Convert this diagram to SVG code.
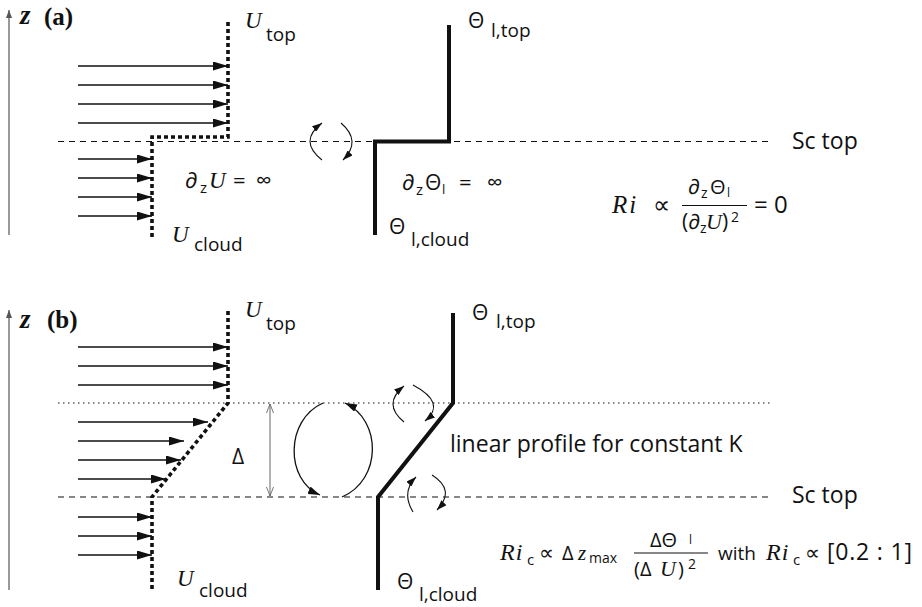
<svg xmlns="http://www.w3.org/2000/svg" width="922" height="607" viewBox="0 0 922 607">
<style>
.sans{font-family:"Open Sans","Noto Sans","DejaVu Sans",sans-serif;fill:#111}
.mi{font-family:"Liberation Serif","DejaVu Serif",serif;font-style:italic;fill:#111}
.bs{font-family:"Liberation Serif","DejaVu Serif",serif;font-weight:bold;fill:#111}
.sym{font-family:"DejaVu Sans",sans-serif;fill:#111}
.wind{stroke:#111;stroke-width:1.3;fill:none;marker-end:url(#ah)}
.uprof{stroke:#111;stroke-width:3.6;stroke-dasharray:4 3;fill:none}
.tprof{stroke:#111;stroke-width:4;fill:none}
.dash{stroke:#111;stroke-width:1.2;stroke-dasharray:6 5;fill:none}
.dot{stroke:#111;stroke-width:1.1;stroke-dasharray:1.5 3.5;fill:none}
.circ{stroke:#111;stroke-width:1.1;fill:none;marker-end:url(#ch)}
.circb{stroke:#111;stroke-width:1.3;fill:none;marker-end:url(#chb)}
.axis{stroke:#777;stroke-width:1.5;fill:none;marker-end:url(#zh)}
</style>
<defs>
<marker id="ah" markerUnits="userSpaceOnUse" markerWidth="15" markerHeight="9" refX="15" refY="4.5" orient="auto"><path d="M0,0 L15,4.5 L0,9 z" fill="#111"/></marker>
<marker id="ch" markerUnits="userSpaceOnUse" markerWidth="10" markerHeight="7" refX="10" refY="3.5" orient="auto"><path d="M0,0 L10,3.5 L0,7 z" fill="#111"/></marker>
<marker id="chb" markerUnits="userSpaceOnUse" markerWidth="12" markerHeight="8" refX="12" refY="4" orient="auto"><path d="M0,0 L12,4 L0,8 z" fill="#111"/></marker>
<marker id="zh" markerUnits="userSpaceOnUse" markerWidth="8" markerHeight="6" refX="8" refY="3" orient="auto"><path d="M0,0 L8,3 L0,6 z" fill="#555"/></marker>
<marker id="dv" markerUnits="userSpaceOnUse" markerWidth="10" markerHeight="8" refX="9" refY="4" orient="auto-start-reverse"><path d="M0,0.5 L9,4 L0,7.5" fill="none" stroke="#555" stroke-width="0.8"/></marker>
</defs>

<g id="connectors">
  <!-- panel a -->
  <line class="axis" x1="9" y1="235" x2="9" y2="10"/>
  <line class="dash" x1="58" y1="141.5" x2="772" y2="141.5"/>
  <g id="wind-a">
    <line class="wind" x1="78" y1="66" x2="228" y2="66"/>
    <line class="wind" x1="78" y1="85" x2="228" y2="85"/>
    <line class="wind" x1="78" y1="104" x2="228" y2="104"/>
    <line class="wind" x1="78" y1="123" x2="228" y2="123"/>
    <line class="wind" x1="78" y1="159" x2="152" y2="159"/>
    <line class="wind" x1="78" y1="178" x2="152" y2="178"/>
    <line class="wind" x1="78" y1="197" x2="152" y2="197"/>
    <line class="wind" x1="78" y1="216" x2="152" y2="216"/>
  </g>
  <path class="uprof" d="M228,22 V137 H152 V239"/>
  <path class="tprof" d="M449,25 V141.5 H375 V235"/>
  <path class="circ" d="M322,160 Q298,141 322,123"/>
  <path class="circ" d="M341,123 Q362,141 343,160"/>

  <!-- panel b -->
  <line class="axis" x1="9" y1="590" x2="9" y2="310"/>
  <line class="dot" x1="58" y1="403" x2="772" y2="403"/>
  <line class="dash" x1="58" y1="497" x2="772" y2="497"/>
  <g id="wind-b">
    <line class="wind" x1="78" y1="347" x2="228" y2="347"/>
    <line class="wind" x1="78" y1="366" x2="228" y2="366"/>
    <line class="wind" x1="78" y1="385" x2="228" y2="385"/>
    <line class="wind" x1="78" y1="422" x2="208" y2="422"/>
    <line class="wind" x1="78" y1="441" x2="184" y2="441"/>
    <line class="wind" x1="78" y1="460" x2="181" y2="460"/>
    <line class="wind" x1="78" y1="479" x2="166" y2="479"/>
    <line class="wind" x1="78" y1="517" x2="152" y2="517"/>
    <line class="wind" x1="78" y1="536" x2="152" y2="536"/>
    <line class="wind" x1="78" y1="555" x2="152" y2="555"/>
  </g>
  <path class="uprof" d="M228,311 V403 L152,497 V590"/>
  <path class="tprof" d="M453,313 V403 L378,497 V590"/>
  <line x1="270" y1="404" x2="270" y2="496" stroke="#555" stroke-width="0.9" marker-start="url(#dv)" marker-end="url(#dv)"/>
  <path class="circb" d="M323,403 C285,420 285,480 320,495"/>
  <path class="circb" d="M342,497 C382,480 382,420 345,403"/>
  <path class="circ" d="M404,422 Q382,404 404,386"/>
  <path class="circ" d="M413,385 Q447,403 425,421"/>
  <path class="circ" d="M413,512 Q401,492 416,477"/>
  <path class="circ" d="M432,475 Q456,490 437,510"/>
</g>

<g id="label-a">
  <text class="mi" x="20" y="24" font-size="27" font-weight="bold">z</text>
  <text class="bs" x="44" y="25" font-size="25">(a)</text>
</g>
<g id="label-b">
  <text class="mi" x="20" y="328" font-size="27" font-weight="bold">z</text>
  <text class="bs" x="47" y="328" font-size="25">(b)</text>
</g>

<g id="u-top-a">
  <text class="mi" x="245" y="28" font-size="23">U</text>
  <text class="sans" x="266" y="41" font-size="19">top</text>
</g>
<g id="u-cloud-a">
  <text class="mi" x="172" y="242" font-size="23">U</text>
  <text class="sans" x="194" y="251" font-size="19">cloud</text>
</g>
<g id="dzU">
  <text class="sans" x="185" y="188" font-size="22">∂</text>
  <text class="sans" x="200" y="193" font-size="15">z</text>
  <text class="mi" x="209" y="188" font-size="23">U</text>
  <text class="sans" x="233" y="188" font-size="22">=</text>
  <text class="sans" x="256" y="188" font-size="22">∞</text>
</g>
<g id="theta-top-a">
  <text class="sans" x="468" y="28" font-size="21">Θ</text>
  <text class="sans" x="491" y="37" font-size="19">l,top</text>
</g>
<g id="theta-cloud-a">
  <text class="sans" x="389" y="234" font-size="21">Θ</text>
  <text class="sans" x="411" y="246" font-size="19">l,cloud</text>
</g>
<g id="dzTheta">
  <text class="sans" x="402" y="190" font-size="22">∂</text>
  <text class="sans" x="416" y="195" font-size="15">z</text>
  <text class="sans" x="425" y="190" font-size="21">Θ</text>
  <text class="sans" x="442" y="194" font-size="13">l</text>
  <text class="sans" x="459" y="190" font-size="22">=</text>
  <text class="sans" x="487" y="190" font-size="22">∞</text>
</g>
<g id="sctop-a"><text class="sans" x="792" y="149" font-size="23">Sc top</text></g>
<g id="ri-a">
  <text class="mi" x="612" y="213" font-size="25" letter-spacing="2">Ri</text>
  <text class="sym" x="653" y="213" font-size="24">∝</text>
  <text class="sans" x="688" y="194" font-size="21">∂</text>
  <text class="sans" x="701" y="198" font-size="14">z</text>
  <text class="sans" x="710" y="194" font-size="20">Θ</text>
  <text class="sans" x="727" y="197" font-size="12">l</text>
  <line x1="682" y1="205.5" x2="747" y2="205.5" stroke="#111" stroke-width="1.1"/>
  <text class="sans" x="682" y="229" font-size="21">(∂</text>
  <text class="sans" x="700" y="233" font-size="14">z</text>
  <text class="mi" x="706" y="229" font-size="22">U</text>
  <text class="sans" x="722" y="229" font-size="21">)</text>
  <text class="sans" x="731" y="222" font-size="14">2</text>
  <text class="sans" x="754" y="213" font-size="24">= 0</text>
</g>

<g id="u-top-b">
  <text class="mi" x="245" y="317" font-size="23">U</text>
  <text class="sans" x="266" y="330" font-size="19">top</text>
</g>
<g id="u-cloud-b">
  <text class="mi" x="177" y="586" font-size="23">U</text>
  <text class="sans" x="199" y="597" font-size="19">cloud</text>
</g>
<g id="delta"><text class="sans" x="232" y="464" font-size="21">Δ</text></g>
<g id="theta-top-b">
  <text class="sans" x="472" y="320" font-size="21">Θ</text>
  <text class="sans" x="496" y="328" font-size="19">l,top</text>
</g>
<g id="theta-cloud-b">
  <text class="sans" x="397" y="589" font-size="21">Θ</text>
  <text class="sans" x="419" y="601" font-size="19">l,cloud</text>
</g>
<g id="linear"><text class="sans" x="450" y="452" font-size="23">linear profile for constant K</text></g>
<g id="sctop-b"><text class="sans" x="792" y="503" font-size="23">Sc top</text></g>
<g id="ri-b">
  <text class="mi" x="500" y="560" font-size="24" letter-spacing="1">Ri</text>
  <text class="sans" x="527" y="565" font-size="15">c</text>
  <text class="sym" x="539" y="560" font-size="21">∝</text>
  <text class="sans" x="562" y="560" font-size="20">Δ</text>
  <text class="mi" x="578" y="560" font-size="21">z</text>
  <text class="sans" x="589" y="563" font-size="14">max</text>
  <text class="sans" x="650" y="547" font-size="20">ΔΘ</text>
  <text class="sans" x="689" y="544" font-size="12">l</text>
  <line x1="634" y1="553" x2="708" y2="553" stroke="#111" stroke-width="1.1"/>
  <text class="sans" x="634" y="576" font-size="20">(Δ</text>
  <text class="mi" x="660" y="576" font-size="22">U</text>
  <text class="sans" x="678" y="576" font-size="20">)</text>
  <text class="sans" x="688" y="569" font-size="14">2</text>
  <text class="sans" x="718" y="560" font-size="19">with</text>
  <text class="mi" x="766" y="560" font-size="24" letter-spacing="1">Ri</text>
  <text class="sans" x="793" y="565" font-size="15">c</text>
  <text class="sym" x="805" y="560" font-size="21">∝</text>
  <text class="sans" x="827" y="560" font-size="23" letter-spacing="0.8">[0.2 : 1]</text>
</g>
</svg>
